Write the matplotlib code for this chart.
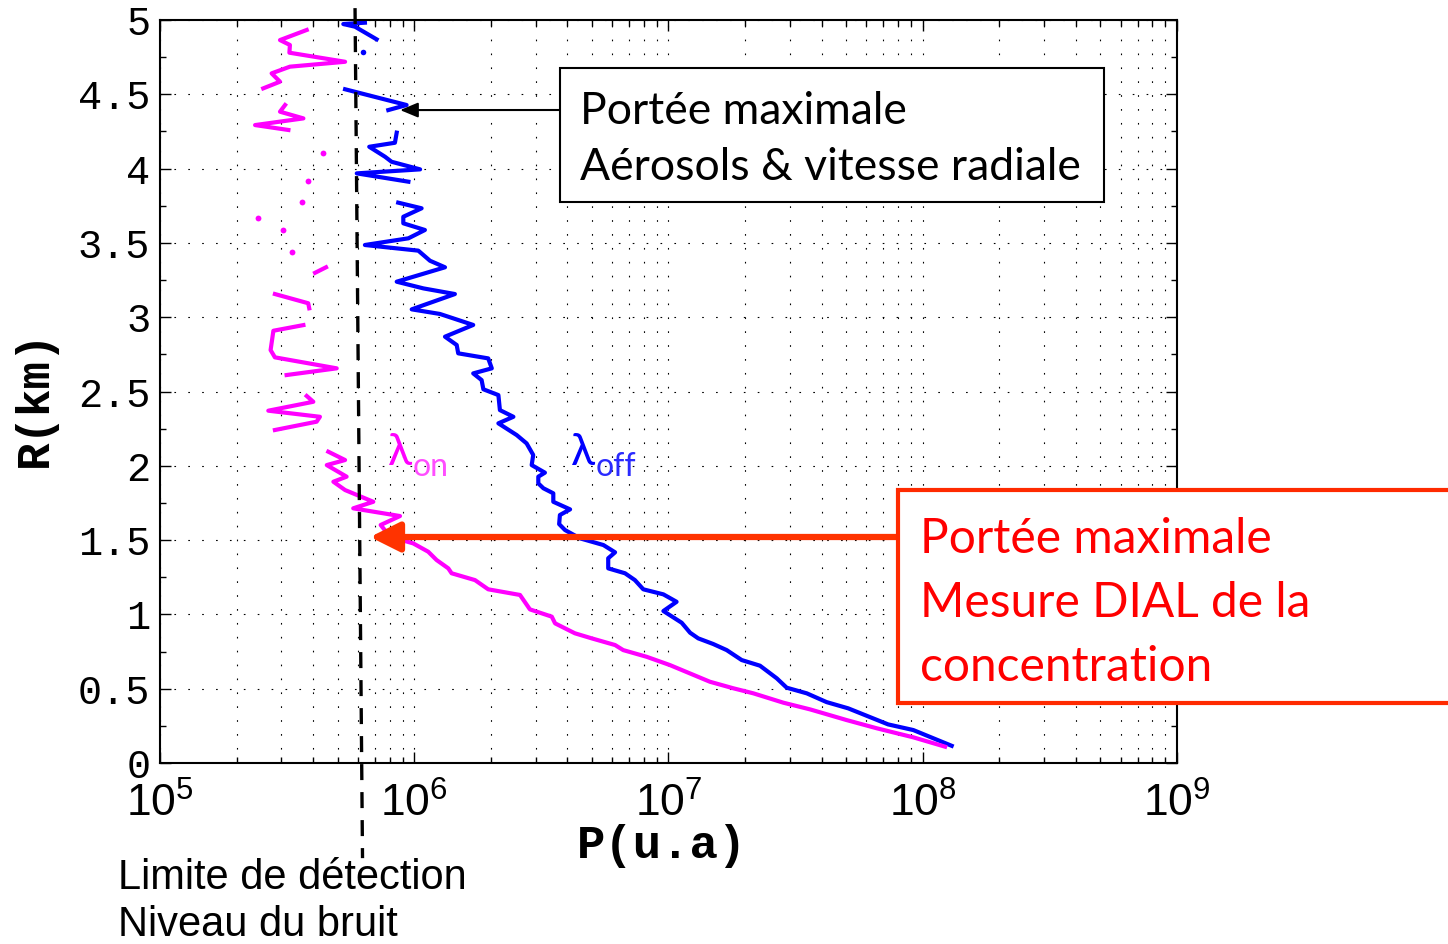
import numpy as np
import matplotlib
matplotlib.use("Agg")
import matplotlib.pyplot as plt
from matplotlib.patches import Rectangle
from matplotlib.ticker import FixedLocator, MultipleLocator, LogLocator, NullFormatter

plt.rcParams["mathtext.fontset"] = "custom"
plt.rcParams["mathtext.rm"] = "Liberation Sans"
plt.rcParams["mathtext.it"] = "Liberation Sans:italic"

# --- signal profiles: range R (km) vs log10 of received power P (u.a) ---
# lambda_off (blue); NaN = gaps where the signal drops below the noise
r_off = [0.116, 0.222, 0.260, 0.368, 0.410, 0.469, 0.507, 0.570, 0.655, 0.693,
         0.760, 0.801, 0.839, 0.877, 0.944, 1.023, 1.085, 1.135, 1.169, 1.231,
         1.277, 1.310, 1.378, 1.418, 1.467, 1.512, 1.568, 1.608, 1.669, 1.707,
         1.758, 1.815, 1.849, 1.882, 1.927, 1.954, 2.005, 2.073, 2.151, 2.207,
         2.286, 2.330, 2.375, 2.476, 2.515, 2.577, 2.622, 2.656, 2.723, 2.757,
         2.813, 2.869, 2.948, 3.022, 3.053, 3.156, 3.194, 3.239, 3.336, 3.380,
         3.448, 3.486, 3.531, 3.587, 3.632, 3.676, 3.733, 3.771, np.nan,
         3.912, 3.968, 3.995, 4.046, 4.080, 4.147, 4.174, 4.242, np.nan,
         4.394, 4.428, 4.534, np.nan,
         4.870, 4.955, 4.973, 4.982]
logp_off = [8.114, 7.963, 7.864, 7.707, 7.622, 7.544, 7.465, 7.426, 7.360, 7.288,
            7.229, 7.176, 7.117, 7.085, 7.052, 6.980, 7.032, 6.980, 6.901, 6.868,
            6.829, 6.763, 6.763, 6.790, 6.744, 6.652, 6.593, 6.570, 6.573, 6.613,
            6.547, 6.547, 6.508, 6.488, 6.488, 6.514, 6.462, 6.468, 6.442, 6.403,
            6.331, 6.390, 6.337, 6.331, 6.272, 6.265, 6.232, 6.305, 6.291, 6.173,
            6.167, 6.121, 6.232, 6.101, 5.990, 6.160, 6.036, 5.931, 6.121, 6.062,
            6.016, 5.806, 5.977, 6.042, 5.957, 5.957, 6.029, 5.937, np.nan,
            5.977, 5.774, 6.023, 5.911, 5.885, 5.823, 5.924, 5.931, np.nan,
            5.898, 5.970, 5.728, np.nan,
            5.852, 5.767, 5.721, 5.806]
r_off_pts = [4.787]
logp_off_pts = [5.800]

# lambda_on (magenta)
r_on = [0.110, 0.173, 0.234, 0.289, 0.361, 0.406, 0.469, 0.503, 0.547, 0.659,
        0.715, 0.760, 0.794, 0.839, 0.873, 0.940, 0.985, 1.034, 1.131, 1.169,
        1.231, 1.277, 1.310, 1.366, 1.422, 1.478, 1.523, 1.602, 1.662, 1.714,
        1.758, 1.837, 1.893, 1.927, 2.005, 2.039, 2.095, np.nan,
        2.241, 2.297, 2.330, 2.371, 2.431, 2.470, np.nan,
        2.611, 2.656, 2.730, 2.779, 2.909, 2.947, np.nan,
        3.060, 3.094, 3.156, np.nan,
        3.299, 3.336, np.nan,
        4.260, 4.293, 4.338, 4.383, 4.428, np.nan,
        4.540, 4.585, 4.641, 4.686, 4.719, 4.780, 4.832, 4.865, 4.933]
logp_on = [8.088, 7.963, 7.819, 7.701, 7.557, 7.452, 7.334, 7.255, 7.163, 7.006,
           6.914, 6.822, 6.790, 6.698, 6.632, 6.554, 6.541, 6.455, 6.416, 6.291,
           6.239, 6.147, 6.134, 6.088, 6.055, 5.996, 5.905, 5.868, 5.944, 5.760,
           5.839, 5.728, 5.682, 5.734, 5.656, 5.728, 5.662, np.nan,
           5.452, 5.616, 5.629, 5.426, 5.603, 5.577, np.nan,
           5.498, 5.695, 5.452, 5.435, 5.446, 5.564, np.nan,
           5.587, 5.583, 5.452, np.nan,
           5.610, 5.653, np.nan,
           5.505, 5.374, 5.564, 5.472, 5.492, np.nan,
           5.406, 5.472, 5.439, 5.511, 5.728, 5.509, 5.511, 5.472, 5.577]
r_on_pts = [3.441, 3.587, 3.670, 3.773, 3.917, 4.103]
logp_on_pts = [5.520, 5.485, 5.387, 5.557, 5.581, 5.642]

# noise floor (detection limit), drawn past the axes
noise_p = [5.85e5, 6.26e5]
noise_r = [5.08, -0.64]

# maximum ranges pointed at by the arrows
aero_range_p, aero_range_r = 8.8e5, 4.394
dial_range_p, dial_range_r = 6.7e5, 1.521

x_exps = [5, 6, 7, 8, 9]
y_ticks = [0, 0.5, 1, 1.5, 2, 2.5, 3, 3.5, 4, 4.5, 5]

note_aero = ["Portée maximale", "Aérosols & vitesse radiale"]
note_dial = ["Portée maximale", "Mesure DIAL de la", "concentration"]
note_noise = ["Limite de détection", "Niveau du bruit"]

BLUE = "#0000ff"
MAGENTA = "#ff00ff"
RED = "#ff2a00"
SANS = ["Lato", "DejaVu Sans"]
MONO = "Liberation Mono"

W, H = 1448, 944
fig = plt.figure(figsize=(W / 100, H / 100), dpi=100)
ax = fig.add_axes([0.1105, 0.1917, 0.7023, 0.7871])

ax.plot(10 ** np.array(logp_off), r_off, color=BLUE, lw=3.0)
ax.plot(10 ** np.array(logp_off_pts), r_off_pts, "o", color=BLUE, ms=4, mew=0)
ax.plot(10 ** np.array(logp_on), r_on, color=MAGENTA, lw=3.0)
ax.plot(10 ** np.array(logp_on_pts), r_on_pts, "o", color=MAGENTA, ms=4.2, mew=0)

ax.plot(noise_p, noise_r, color="k", lw=2.4, ls=(0, (4.8, 3.6)), clip_on=False, zorder=4)

ax.set_xscale("log")
ax.set_xlim(1e5, 1e9)
ax.set_ylim(0, 5)
ax.xaxis.set_major_locator(FixedLocator([10.0 ** e for e in x_exps]))
ax.xaxis.set_minor_locator(LogLocator(base=10, subs=np.arange(2, 10)))
ax.xaxis.set_minor_formatter(NullFormatter())
ax.set_xticklabels([r"$\mathrm{10^{%d}}$" % e for e in x_exps])
ax.set_yticks(y_ticks)
ax.set_yticklabels([f"{v:g}" for v in y_ticks], family=MONO)
ax.yaxis.set_minor_locator(MultipleLocator(0.25))

ax.tick_params(axis="x", which="major", labelsize=32, pad=14)
ax.tick_params(axis="y", which="major", labelsize=29, pad=7)
ax.tick_params(which="both", direction="in", top=True, right=True, width=1.0)
ax.tick_params(which="major", length=8)
ax.tick_params(which="minor", length=4)
for s in ax.spines.values():
    s.set_linewidth(1.5)

grid_style = dict(color="k", lw=0.8, ls=(0, (1.5, 11)))
ax.grid(which="major", axis="both", **grid_style)
ax.grid(which="minor", axis="x", **grid_style)

ax.set_xlabel("P(u.a)", family=MONO, fontweight="bold", fontsize=34, va="center")
ax.xaxis.set_label_coords(0.4936, -0.1110)
ax.set_ylabel("R(km)", family=MONO, fontweight="bold", fontsize=33, va="center")
ax.yaxis.set_label_coords(-0.1229, 0.4913)

# curve labels
fig.text(388 / W, 1 - 465 / H, "λ", color=MAGENTA, fontsize=32, family=SANS, va="baseline")
fig.text(413 / W, 1 - 476 / H, "on", color="#ff4dff", fontsize=23, family=SANS, va="baseline")
fig.text(571 / W, 1 - 465 / H, "λ", color=BLUE, fontsize=32, family=SANS, va="baseline")
fig.text(596 / W, 1 - 476 / H, "off", color="#2a2aff", fontsize=23, family=SANS, va="baseline")

# aerosol / radial wind range note
fig.add_artist(Rectangle((560 / W, 1 - 202 / H), 544 / W, 134 / H, transform=fig.transFigure,
                         facecolor="white", edgecolor="k", lw=1.5, zorder=5))
for line, base in zip(note_aero, [124, 180]):
    fig.text(580 / W, 1 - base / H, line, fontsize=32, family=SANS, va="baseline", zorder=6)
ax.annotate("", xy=(aero_range_p, aero_range_r), xytext=(560 / W, 1 - 110 / H),
            textcoords="figure fraction",
            arrowprops=dict(arrowstyle="-|>,head_length=0.6,head_width=0.25",
                            color="k", lw=1.5, mutation_scale=18, shrinkA=0, shrinkB=0),
            annotation_clip=False, zorder=6)

# DIAL range note
fig.add_artist(Rectangle((898 / W, 1 - 703 / H), 0.5, 213 / H, transform=fig.transFigure,
                         facecolor="white", edgecolor=RED, lw=3, zorder=5))
for line, base in zip(note_dial, [553, 617, 681]):
    fig.text(920 / W, 1 - base / H, line, color="#ff0000", fontsize=34.5, family=SANS,
             va="baseline", zorder=6)
ax.annotate("", xy=(dial_range_p, dial_range_r), xytext=(898 / W, 1 - 537 / H),
            textcoords="figure fraction",
            arrowprops=dict(arrowstyle="-|>,head_length=0.6,head_width=0.3",
                            color="#ff3300", lw=4.5, mutation_scale=30, shrinkA=0, shrinkB=0),
            annotation_clip=False, zorder=6)

for line, base in zip(note_noise, [889, 936]):
    fig.text(118 / W, 1 - base / H, line, fontsize=30, family="Liberation Sans", va="baseline")

fig.savefig("out.png", dpi=100)
